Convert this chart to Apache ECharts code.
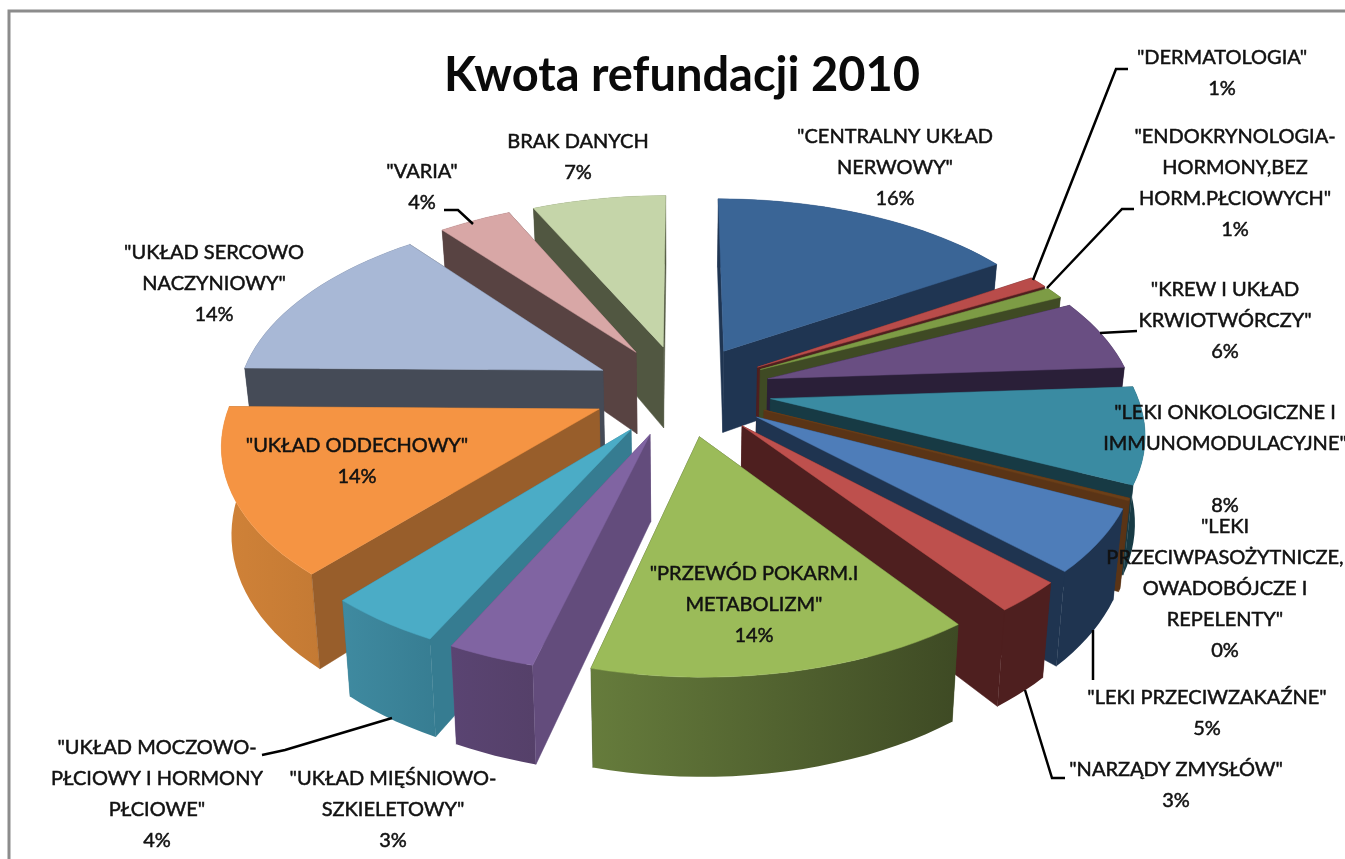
<!DOCTYPE html>
<html>
<head>
<meta charset="utf-8">
<title>Kwota refundacji 2010</title>
<style>
  html, body { margin: 0; padding: 0; background: #fff; }
  #main { width: 1345px; height: 859px; }
</style>
<script src="https://cdn.jsdelivr.net/npm/echarts@6/dist/echarts.min.js"></script>
</head>
<body>
<div id="main"></div>
<script>
// dane
const categories = [
  '"CENTRALNY UKŁAD\nNERWOWY"',
  '"DERMATOLOGIA"',
  '"ENDOKRYNOLOGIA-\nHORMONY,BEZ\nHORM.PŁCIOWYCH"',
  '"KREW I UKŁAD\nKRWIOTWÓRCZY"',
  '"LEKI ONKOLOGICZNE I\nIMMUNOMODULACYJNE"\n',
  '"LEKI\nPRZECIWPASOŻYTNICZE,\nOWADOBÓJCZE I\nREPELENTY"',
  '"LEKI PRZECIWZAKAŹNE"',
  '"NARZĄDY ZMYSŁÓW"',
  '"PRZEWÓD POKARM.I\nMETABOLIZM"',
  '"UKŁAD MIĘŚNIOWO-\nSZKIELETOWY"',
  '"UKŁAD MOCZOWO-\nPŁCIOWY I HORMONY\nPŁCIOWE"',
  '"UKŁAD ODDECHOWY"',
  '"UKŁAD SERCOWO\nNACZYNIOWY"',
  '"VARIA"',
  'BRAK DANYCH'
];
const values = [16, 1, 1, 6, 8, 0.2, 5.2, 2.6, 14, 3.2, 4.2, 13.8, 14, 3.8, 7];

// kolory: wierzch, sciana boczna, luk (lewa/prawa strona gradientu)
const topColors = ['#3a6596', '#b94c4a', '#7d9c45', '#694e82', '#3a8ba2', '#6b3f18', '#4e7db9', '#be504d', '#9bbb59', '#8064a2', '#4bacc6', '#f59443', '#a8b8d6', '#d8a7a6', '#c5d5a9'];
const wallColors = ['#1f3552', '#4f1f1f', '#3f4a24', '#2a1f38', '#173a44', '#5a3416', '#1f3450', '#4e1f1f', '#3e4a24', '#634c7c', '#367c91', '#985e2b', '#454b57', '#584342', '#515741'];
const arcLeft = ['#1f3552', '#4f1f1f', '#3f4a24', '#2a1f38', '#173a44', '#5a3416', '#1f3450', '#4e1f1f', '#667c3c', '#5a4472', '#3f8aa0', '#d08238', '#454b57', '#584342', '#515741'];
const arcRight = ['#1f3552', '#4f1f1f', '#3f4a24', '#2a1f38', '#173a44', '#5a3416', '#1f3450', '#4e1f1f', '#3e4a24', '#554069', '#377d92', '#c47a34', '#454b57', '#584342', '#515741'];

// srodek etykiety (x) i srodek pierwszej linii (y)
const labelPos = [
  [895, 137], [1222, 58], [1235, 137], [1225, 290], [1225, 413], [1225, 527], [1207, 698], [1176, 770],
  [754, 574], [393, 779], [157, 748], [357, 446], [214, 253], [422, 172], [578, 142]
];
const leaderLines = [
  [[1033, 280], [1116, 69], [1128, 69]],
  [[1047, 288], [1122, 209], [1134, 209]],
  [[1100, 333], [1137, 331]],
  [[1093, 630], [1093, 680]],
  [[1025, 690], [1052, 778], [1065, 778]],
  [[392, 718], [285, 750], [262, 755]],
  [[444, 210], [458, 210], [473, 224]]
];

const total = values.reduce((a, b) => a + b, 0);
const starts = [];
values.reduce((acc, v, i) => { starts[i] = acc; return acc + v; }, 0);

// rzut perspektywiczny tarczy
const cx = 682, cy = 390, R = 365, K = 187, persp = 0.155, explode = 0.245, depth = 84, converge = 0.978;
function project(X, V, drop) {
  const p = 1 / (1 - persp * V);
  const x = R * X * p;
  return [
    cx + (drop ? x * converge : x),
    cy + K * V * p + (drop ? depth * (1 + 0.15 * V) : 0)
  ];
}

function renderSlice(params, api) {
  const i = api.value(0);
  const a0 = starts[i] / total * Math.PI * 2;
  const a1 = (starts[i] + api.value(1)) / total * Math.PI * 2;
  const mid = (a0 + a1) / 2;
  const ax = explode * Math.sin(mid), av = -explode * Math.cos(mid);
  const order = Math.round((-Math.cos(mid) + 1) * 1000);

  const arcTop = [], arcBot = [];
  const steps = Math.max(3, Math.ceil((a1 - a0) / 0.04));
  for (let s = 0; s <= steps; s++) {
    const a = a0 + (a1 - a0) * s / steps;
    const X = ax + Math.sin(a), V = av - Math.cos(a);
    arcTop.push(project(X, V, false));
    arcBot.push(project(X, V, true));
  }
  const apexTop = project(ax, av, false), apexBot = project(ax, av, true);
  const poly = (points, fill) => ({
    type: 'polygon', z2: order, silent: true,
    shape: { points },
    style: { fill, stroke: fill, lineWidth: 0.5 }
  });
  const startWall = poly([apexTop, arcTop[0], arcBot[0], apexBot], wallColors[i]);
  const endWall = poly([apexTop, arcTop[steps], arcBot[steps], apexBot], wallColors[i]);
  const arcWall = poly(arcTop.concat(arcBot.slice().reverse()), {
    type: 'linear', x: 0, y: 0, x2: 1, y2: 0,
    colorStops: [{ offset: 0, color: arcLeft[i] }, { offset: 1, color: arcRight[i] }]
  });
  arcWall.style.stroke = null;
  const topFace = poly([apexTop].concat(arcTop), topColors[i]);
  // sciany widoczne rysowane po luku, niewidoczne przed nim
  const hidden = [], shown = [];
  (a0 > Math.PI ? shown : hidden).push(startWall);
  (a1 < Math.PI ? shown : hidden).push(endWall);
  return { type: 'group', children: hidden.concat([arcWall], shown, [topFace]) };
}

const textFont = 'Lato, "Open Sans", sans-serif';
const graphics = [{
  type: 'polyline', z: 1, silent: true,
  shape: { points: [[9, 859], [9, 11], [1345, 11]] },
  style: { stroke: '#8c8c8c', lineWidth: 3, fill: null }
}];
leaderLines.forEach(points => graphics.push({
  type: 'polyline', z: 50, silent: true,
  shape: { points },
  style: { stroke: '#000', lineWidth: 2.5, fill: null }
}));
categories.forEach((name, i) => graphics.push({
  type: 'text', z: 60, silent: true,
  x: labelPos[i][0],
  y: labelPos[i][1] - 15.5,
  style: {
    text: name + '\n' + Math.round(values[i] / total * 100) + '%',
    font: '20px ' + textFont,
    lineHeight: 31,
    fill: '#111',
    stroke: '#111',
    lineWidth: 0.5,
    textAlign: 'center',
    textVerticalAlign: 'top'
  }
}));

const myChart = echarts.init(document.getElementById('main'));
myChart.setOption({
  animation: false,
  backgroundColor: '#fff',
  title: {
    text: 'Kwota refundacji 2010',
    left: 677,
    top: 47,
    textAlign: 'center',
    textStyle: { fontFamily: textFont, fontWeight: 'bold', fontSize: 47, color: '#0a0a0a' }
  },
  graphic: graphics,
  series: [{
    type: 'custom',
    coordinateSystem: 'none',
    silent: true,
    renderItem: renderSlice,
    data: values.map((v, i) => [i, v])
  }]
});
</script>
</body>
</html>
